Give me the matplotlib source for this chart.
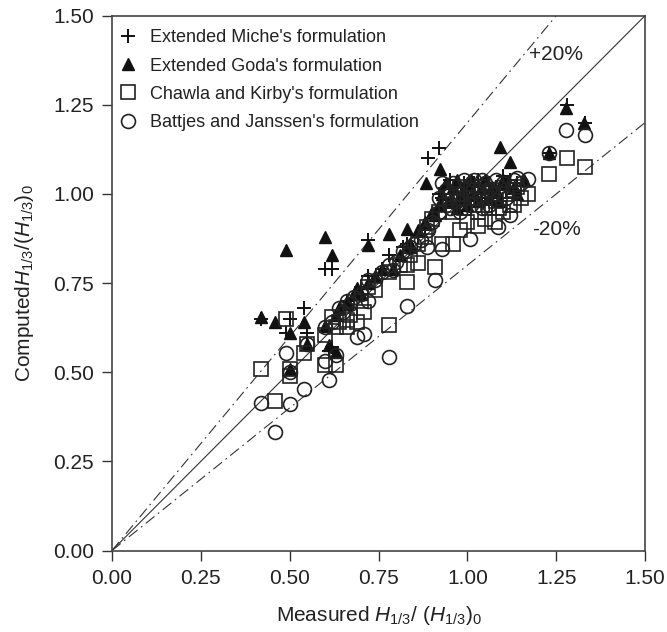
import matplotlib
matplotlib.use("Agg")
import matplotlib.pyplot as plt
import numpy as np

plt.rcParams['font.family'] = ['Liberation Sans', 'DejaVu Sans']
plt.rcParams['mathtext.fontset'] = 'custom'
plt.rcParams['mathtext.rm'] = 'Liberation Sans'
plt.rcParams['mathtext.it'] = 'Liberation Sans:italic'

# Extended Miche's formulation (plus)
miche_x = [0.42, 0.50, 0.49, 0.54, 0.55, 0.60, 0.62, 0.72, 0.72, 0.78, 0.89, 0.92,
           0.92, 0.62, 0.70, 0.83, 0.88, 0.95, 0.97, 1.00, 1.02, 1.05, 1.08, 1.10,
           1.12, 1.23, 1.28, 1.33, 0.98, 1.01, 1.04, 1.07, 0.94, 0.61,
           0.93, 0.95, 0.97, 0.99, 1.01, 1.03, 1.06, 1.09, 1.11, 1.14, 0.96, 1.00,
           1.04, 1.07, 1.13, 0.66, 0.70, 0.76, 0.82, 0.86]
miche_y = [0.65, 0.65, 0.61, 0.68, 0.61, 0.79, 0.79, 0.87, 0.77, 0.83, 1.10, 1.13,
           1.00, 0.57, 0.72, 0.86, 0.90, 1.02, 1.00, 0.98, 1.03, 1.00, 1.02, 1.05,
           1.04, 1.115, 1.25, 1.20, 0.97, 1.02, 0.99, 1.01, 0.96, 0.56,
           0.99, 1.04, 0.97, 1.03, 0.99, 1.04, 1.03, 0.99, 1.01, 1.03, 1.00, 1.01,
           0.98, 0.97, 1.00, 0.70, 0.74, 0.79, 0.85, 0.88]

# Extended Goda's formulation (filled triangle)
goda_x = [0.42, 0.46, 0.49, 0.50, 0.54, 0.50, 0.55, 0.60, 0.62, 0.60, 0.61, 0.63,
          0.69, 0.72, 0.72, 0.78, 0.79, 0.83, 0.84, 0.885, 0.923, 1.092, 1.12, 1.23,
          1.277, 1.327, 0.93, 0.96, 0.98, 1.00, 1.02, 1.04, 1.06, 1.08, 1.10, 1.13,
          1.16, 0.66, 0.64, 0.86, 0.90, 0.95,
          0.92, 0.94, 0.97, 0.99, 1.01, 1.03, 1.05, 1.07, 1.09, 1.11, 1.14, 0.97,
          1.00, 0.88, 0.91, 0.63, 0.66, 0.68, 0.70, 0.74, 0.76, 0.81, 0.84]
goda_y = [0.655, 0.64, 0.842, 0.61, 0.64, 0.51, 0.58, 0.878, 0.83, 0.63, 0.576, 0.557,
          0.735, 0.856, 0.75, 0.889, 0.79, 0.903, 0.85, 1.03, 1.07, 1.132, 1.09, 1.115,
          1.24, 1.20, 1.00, 1.02, 0.99, 1.03, 1.00, 1.02, 0.99, 1.01, 1.04, 1.02,
          1.04, 0.70, 0.68, 0.90, 0.95, 0.98,
          0.97, 1.03, 1.04, 1.01, 1.04, 0.98, 1.04, 1.02, 0.98, 1.03, 1.00, 0.96,
          0.97, 0.92, 0.94, 0.66, 0.69, 0.72, 0.72, 0.77, 0.79, 0.83, 0.86]

# Chawla and Kirby's formulation (open square)
chawla_x = [0.42, 0.459, 0.49, 0.50, 0.50, 0.54, 0.55, 0.60, 0.60, 0.63, 0.62, 0.66,
            0.63, 0.66, 0.69, 0.71, 0.72, 0.78, 0.78, 0.83, 0.86, 0.83, 0.886, 0.91,
            0.93, 0.96, 0.98, 1.00, 1.03, 1.05, 1.078, 1.10, 1.15, 1.17, 1.13, 1.23,
            1.28, 1.33, 0.95, 0.97, 1.00, 1.02, 1.05, 1.08, 1.11, 1.14, 0.88, 0.84,
            0.92, 0.94, 0.96, 0.99, 1.01, 1.03, 1.06, 1.07, 1.09, 1.12, 1.13, 0.98,
            1.04, 0.90, 0.86, 0.64, 0.67, 0.70, 0.74, 0.81]
chawla_y = [0.508, 0.42, 0.65, 0.49, 0.51, 0.555, 0.58, 0.604, 0.52, 0.52, 0.655, 0.646,
            0.627, 0.627, 0.64, 0.67, 0.74, 0.632, 0.78, 0.80, 0.805, 0.754, 0.908, 0.795,
            0.86, 0.86, 0.90, 0.92, 0.91, 0.93, 0.922, 0.95, 0.99, 1.00, 0.97, 1.055,
            1.10, 1.076, 0.98, 1.00, 0.99, 0.97, 0.99, 0.98, 1.00, 1.02, 0.88, 0.83,
            0.95, 0.97, 0.95, 0.96, 1.01, 0.95, 0.96, 1.01, 0.96, 0.97, 1.01, 1.02,
            1.02, 0.93, 0.86, 0.64, 0.66, 0.70, 0.73, 0.80]

# Battjes and Janssen's formulation (open circle)
battjes_x = [0.42, 0.459, 0.49, 0.50, 0.50, 0.54, 0.55, 0.60, 0.61, 0.63, 0.60, 0.64,
             0.66, 0.68, 0.69, 0.71, 0.72, 0.72, 0.78, 0.79, 0.83, 0.84, 0.886, 0.93,
             0.91, 1.008, 1.087, 1.12, 1.14, 1.17, 1.23, 1.277, 1.33, 0.92, 0.94, 0.96,
             0.98, 1.00, 1.01, 1.03, 1.05, 1.07, 1.09, 1.11, 0.95, 0.98, 1.04, 0.87,
             0.90, 0.80, 0.74, 0.70,
             0.93, 0.95, 0.97, 0.99, 1.02, 1.02, 1.04, 1.06, 1.08, 1.10, 1.13, 1.15,
             1.06, 0.92, 0.89, 0.62, 0.65, 0.67, 0.76, 0.78, 0.82, 0.85]
battjes_y = [0.414, 0.333, 0.553, 0.41, 0.50, 0.452, 0.58, 0.532, 0.478, 0.548, 0.627, 0.68,
             0.70, 0.71, 0.60, 0.607, 0.70, 0.76, 0.542, 0.786, 0.685, 0.85, 0.85, 0.847,
             0.758, 0.875, 0.908, 0.94, 1.046, 1.043, 1.115, 1.18, 1.165, 0.99, 1.01, 1.03,
             1.00, 1.02, 0.97, 1.01, 1.03, 1.00, 1.02, 0.99, 0.96, 0.95, 0.96, 0.87,
             0.92, 0.81, 0.76, 0.72,
             1.03, 1.00, 0.98, 1.04, 1.04, 0.99, 1.04, 1.01, 1.04, 1.03, 1.04, 1.03,
             0.97, 0.95, 0.90, 0.64, 0.67, 0.69, 0.78, 0.80, 0.84, 0.86]

labels = ["Extended Miche's formulation", "Extended Goda's formulation",
          "Chawla and Kirby's formulation", "Battjes and Janssen's formulation"]
ticks = [0.00, 0.25, 0.50, 0.75, 1.00, 1.25, 1.50]
tick_labels = ["0.00", "0.25", "0.50", "0.75", "1.00", "1.25", "1.50"]

fig = plt.figure(figsize=(6.67, 6.32), dpi=100)
ax = fig.add_axes([112/667, 1-550.5/632, (645-112)/667, (550.5-15.7)/632])

line = np.array([0.0, 1.5])
ax.plot(line, line, color='#333333', lw=0.8, zorder=1)
ax.plot(line, 1.2*line, color='#333333', lw=0.8, dashes=[10, 4, 1.5, 4], zorder=1)
ax.plot(line, 0.8*line, color='#333333', lw=0.8, dashes=[10, 4, 1.5, 4], zorder=1)

ms = 9.5
ax.plot(miche_x, miche_y, linestyle='none', marker='+', ms=10, mew=1.4,
        color='#111111', label=labels[0], zorder=3)
ax.plot(goda_x, goda_y, linestyle='none', marker='^', ms=8, color='#111111',
        mec='#111111', label=labels[1], zorder=3)
ax.plot(chawla_x, chawla_y, linestyle='none', marker='s', ms=ms, mfc='none',
        mec='#222222', mew=1.2, label=labels[2], zorder=3)
ax.plot(battjes_x, battjes_y, linestyle='none', marker='o', ms=ms+0.5, mfc='none',
        mec='#222222', mew=1.2, label=labels[3], zorder=3)

ax.text(1.25, 1.39, '+20%', fontsize=15, ha='center', va='center', color='#222222')
ax.text(1.25, 0.90, '-20%', fontsize=15, ha='center', va='center', color='#222222')

ax.set_xlim(0, 1.5)
ax.set_ylim(0, 1.5)
ax.set_xticks(ticks)
ax.set_xticklabels(tick_labels)
ax.set_yticks(ticks)
ax.set_yticklabels(tick_labels)
ax.tick_params(direction='out', length=7, width=1, labelsize=15, pad=6,
               color='#333333', labelcolor='#222222')
for s in ax.spines.values():
    s.set_color('#444444')
    s.set_linewidth(1.2)

ax.set_xlabel(r'Measured $H_{\mathit{1/3}}$/ $(H_{\mathit{1/3}})_0$', fontsize=15,
              color='#222222', labelpad=12)
ax.set_ylabel(r'Computed$H_{\mathit{1/3}}$/$(H_{\mathit{1/3}})_0$', fontsize=15,
              color='#222222', labelpad=12)

leg = ax.legend(loc='upper left', bbox_to_anchor=(0.0064, 0.9813), frameon=False,
                fontsize=13, handlelength=1.0, handletextpad=0.7, labelspacing=0.62,
                borderaxespad=0.0, borderpad=0.2)
for t in leg.get_texts():
    t.set_color('#222222')

fig.savefig('out.png', dpi=100)
